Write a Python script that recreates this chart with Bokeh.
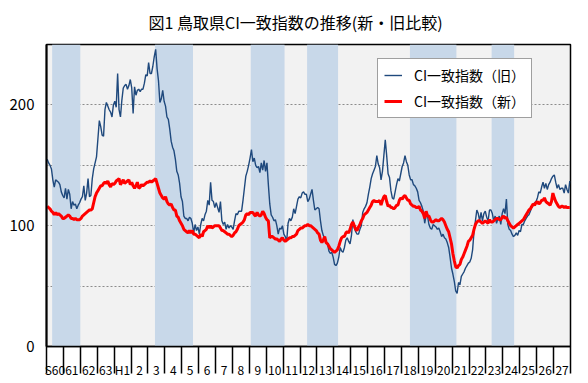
import numpy as np
from bokeh.plotting import figure
from bokeh.models import Range1d, FixedTicker, Legend, LegendItem, ColumnDataSource
from bokeh.embed import file_html
from bokeh.resources import INLINE

title_text = "図1 鳥取県CI一致指数の推移(新・旧比較)"
label_old = "CI一致指数（旧）"
label_new = "CI一致指数（新）"

first_year = 1985
year_labels = ["S60", "61", "62", "63", "H1", "2", "3", "4", "5", "6", "7", "8", "9", "10",
               "11", "12", "13", "14", "15", "16", "17", "18", "19", "20", "21", "22", "23",
               "24", "25", "26", "27"]

y_tick_values = [0, 100, 200]
y_grid_values = [50, 100, 150, 200]

# recession periods (year, month) start / end inclusive
recession_start = [(1985, 5), (1991, 6), (1997, 2), (2000, 6), (2006, 7), (2011, 5)]
recession_end = [(1986, 12), (1993, 8), (1999, 1), (2002, 3), (2009, 3), (2012, 8)]

# monthly values Jan 1985 - Dec 2015
ci_old = [
    155, 152, 150, 147, 138, 132, 138, 137, 136, 134, 128, 125,
    123, 131, 122, 130, 126, 114, 120, 117, 118, 114, 117, 119,
    122, 124, 133, 121, 127, 139, 124, 125, 139, 147, 152, 157,
    172, 187, 182, 175, 174, 196, 202, 199, 196, 194, 190, 200,
    203, 198, 226, 196, 190, 204, 214, 216, 217, 213, 216, 221,
    214, 193, 215, 208, 212, 213, 211, 213, 213, 218, 225, 224,
    235, 226, 226, 232, 240, 246, 230, 220, 202, 205, 212, 203,
    199, 190, 188, 180, 170, 165, 162, 155, 145, 142, 135, 124,
    120, 108, 106, 106, 104, 107, 106, 102, 94, 101, 96, 99,
    93, 101, 106, 104, 109, 112, 121, 117, 136, 121, 120, 115,
    119, 115, 111, 120, 104, 101, 103, 97, 101, 98, 100, 99,
    97, 104, 110, 109, 112, 112, 112, 121, 131, 141, 145, 150,
    156, 163, 153, 156, 150, 148, 149, 144, 152, 146, 154, 145,
    152, 134, 118, 109, 107, 104, 105, 100, 93, 98, 97, 100,
    93, 91, 87, 102, 106, 104, 107, 114, 110, 116, 122, 124,
    123, 127, 128, 126, 126, 120, 122, 126, 130, 121, 113, 114,
    115, 114, 104, 96, 92, 90, 87, 85, 79, 77, 78, 74,
    68, 67, 69, 74, 82, 79, 78, 82, 88, 90, 87, 85,
    92, 105, 98, 95, 93, 93, 97, 100, 111, 114, 116, 119,
    126, 132, 139, 143, 146, 149, 158, 151, 148, 138, 145, 158,
    171, 158, 143, 140, 129, 123, 122, 128, 134, 139, 137, 143,
    149, 152, 158, 153, 150, 142, 138, 138, 134, 133, 131, 128,
    121, 119, 116, 112, 102, 109, 108, 101, 98, 97, 101, 100,
    99, 97, 98, 95, 91, 93, 90, 89, 86, 82, 74, 65,
    60, 54, 46, 44, 53, 51, 58, 60, 62, 65, 67, 69,
    70, 73, 80, 95, 104, 113, 110, 104, 111, 104, 110, 112,
    107, 104, 113, 113, 110, 104, 108, 102, 106, 108, 101, 110,
    114, 110, 122, 101, 97, 96, 93, 91, 92, 94, 92, 96,
    95, 101, 101, 104, 106, 108, 109, 112, 115, 117, 119, 120,
    123, 128, 127, 132, 136, 131, 135, 130, 134, 136, 139, 141,
    142, 136, 131, 134, 130, 131, 131, 127, 134, 130, 127, 137,
]

ci_new = [
    116, 115, 114, 112, 111, 109, 111, 109, 110, 109, 108, 106,
    106, 107, 108, 109, 108, 106, 106, 105, 106, 105, 105, 105,
    106, 108, 109, 110, 111, 112, 113, 113, 114, 119, 124, 127,
    129, 131, 133, 133, 135, 136, 135, 137, 134, 132, 135, 134,
    135, 137, 138, 139, 134, 136, 138, 135, 136, 137, 138, 134,
    136, 133, 131, 133, 136, 131, 132, 134, 133, 134, 135, 136,
    136, 137, 136, 137, 138, 139, 135, 131, 127, 125, 123, 122,
    124, 120, 118, 117, 118, 115, 113, 113, 108, 107, 104, 102,
    100, 97, 96, 95, 94, 96, 94, 96, 93, 93, 92, 91,
    90, 93, 91, 95, 96, 97, 100, 98, 100, 98, 99, 100,
    100, 100, 100, 98, 96, 96, 95, 94, 93, 93, 92, 91,
    92, 94, 95, 97, 100, 101, 102, 103, 105, 109, 110, 109,
    111, 111, 111, 109, 108, 111, 109, 108, 109, 112, 110, 107,
    105, 104, 90, 91, 91, 90, 89, 89, 88, 87, 89, 90,
    88, 87, 88, 89, 90, 90, 91, 91, 92, 93, 96, 97,
    98, 98, 99, 100, 100, 101, 100, 100, 99, 98, 97, 96,
    94, 93, 88, 86, 88, 91, 86, 85, 83, 81, 80, 79,
    78, 79, 80, 83, 87, 90, 91, 91, 94, 95, 94, 97,
    101, 103, 100, 97, 96, 99, 101, 104, 106, 109, 110, 111,
    113, 115, 117, 120, 121, 120, 120, 120, 121, 117, 121, 124,
    125, 120, 116, 117, 115, 115, 114, 115, 117, 117, 121, 123,
    122, 124, 125, 123, 121, 121, 118, 117, 116, 116, 115, 115,
    116, 113, 112, 110, 106, 112, 108, 108, 105, 103, 103, 104,
    105, 104, 104, 105, 106, 105, 103, 100, 97, 95, 90, 85,
    77, 71, 66, 65, 67, 68, 72, 74, 77, 80, 83, 87,
    88, 90, 92, 97, 101, 103, 104, 104, 103, 102, 103, 104,
    103, 102, 105, 103, 103, 104, 105, 106, 106, 105, 105, 107,
    108, 106, 107, 104, 102, 100, 99, 98, 99, 100, 101, 102,
    103, 104, 105, 107, 109, 111, 113, 114, 116, 118, 117, 119,
    120, 118, 119, 121, 121, 123, 120, 119, 118, 117, 120, 127,
    123, 120, 118, 116, 115, 116, 116, 115, 116, 115, 115, 115,
]

# x coordinate: each year label centred on an integer (year centre)
n_years = len(year_labels)
year_centers = [first_year + i for i in range(n_years)]
year_bounds = [first_year - 0.5 + i for i in range(n_years + 1)]
months = np.arange(len(ci_old))
x = first_year - 0.5 + (months + 0.5) / 12.0

src = ColumnDataSource(dict(x=x, old=ci_old, new=ci_new))

p = figure(width=588, height=383, output_backend="svg", toolbar_location=None,
           x_range=Range1d(year_bounds[0], year_bounds[-1]), y_range=Range1d(0, 250),
           min_border_left=46, min_border_right=18, min_border_top=43, min_border_bottom=37)

p.background_fill_color = "#F2F2F2"
p.border_fill_color = "white"
p.outline_line_color = "black"
p.outline_line_width = 1.5

# recession bands
band_left = [y - 0.5 + (m - 1) / 12.0 for (y, m) in recession_start]
band_right = [y - 0.5 + m / 12.0 for (y, m) in recession_end]
p.quad(left=band_left, right=band_right, bottom=0, top=250,
       fill_color="#C8D8E9", line_color=None)

r_old = p.line("x", "old", source=src, line_color="#1F497D", line_width=1.4)
r_new = p.line("x", "new", source=src, line_color="#FF0000", line_width=3)

# title
p.title.text = title_text
p.title.align = "left"
p.title.offset = 102
p.title.vertical_align = "top"
p.title.standoff = 18
p.title.text_font = "Noto Sans CJK JP"
p.title.text_font_size = "16px"
p.title.text_font_style = "normal"
p.title.text_color = "black"

# y axis
p.yaxis.ticker = FixedTicker(ticks=y_tick_values)
p.yaxis.major_tick_out = 0
p.yaxis.major_tick_in = 0
p.yaxis.minor_tick_out = 0
p.yaxis.minor_tick_in = 0
p.yaxis.axis_line_color = "black"
p.yaxis.axis_line_width = 2
p.yaxis.major_label_standoff = 12
p.yaxis.major_label_text_font = "Noto Sans CJK JP"
p.yaxis.major_label_text_font_size = "15px"
p.yaxis.major_label_text_color = "black"

p.ygrid.ticker = FixedTicker(ticks=y_grid_values)
p.ygrid.grid_line_color = "#8C8C8C"
p.ygrid.grid_line_dash = "2 2"
p.ygrid.grid_line_width = 1
p.xgrid.visible = False

# x axis
p.xaxis.ticker = FixedTicker(ticks=year_centers, minor_ticks=year_bounds)
p.xaxis.major_label_overrides = {c: l for c, l in zip(year_centers, year_labels)}
p.xaxis.major_tick_out = 0
p.xaxis.major_tick_in = 0
p.xaxis.minor_tick_in = 0
p.xaxis.minor_tick_out = 27
p.xaxis.minor_tick_line_color = "black"
p.xaxis.minor_tick_line_width = 1.5
p.xaxis.axis_line_color = "black"
p.xaxis.axis_line_width = 1.5
p.xaxis.major_label_standoff = -13
p.xaxis.major_label_text_font = "Noto Sans CJK JP"
p.xaxis.major_label_text_font_size = "12px"
p.xaxis.major_label_text_color = "black"

legend = Legend(items=[LegendItem(label=label_old, renderers=[r_old]),
                       LegendItem(label=label_new, renderers=[r_new])],
                location=(331, 228))
legend.border_line_color = "#404040"
legend.border_line_width = 1
legend.background_fill_color = "white"
legend.background_fill_alpha = 1.0
legend.label_text_font = "Noto Sans CJK JP"
legend.label_text_font_size = "14px"
legend.label_text_color = "black"
legend.glyph_width = 18
legend.glyph_height = 20
legend.label_height = 20
legend.label_standoff = 12
legend.spacing = 6
legend.padding = 6
legend.margin = 0
p.add_layout(legend)

open("out.html", "w").write(file_html(p, INLINE))
